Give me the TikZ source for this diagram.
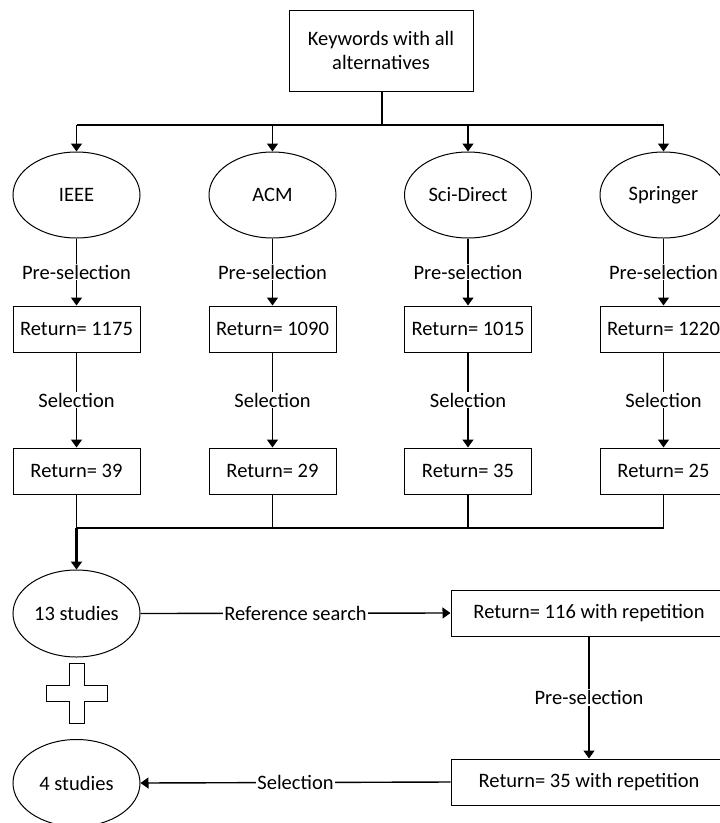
\documentclass[tikz,border=0pt]{standalone}
\usepackage{fontspec}
\setmainfont{Carlito}
\usetikzlibrary{arrows.meta,shapes.geometric}
\tikzset{
  txt/.style={font=\fontsize{20.5}{24}\selectfont},
  boxnode/.style={txt, draw, line width=1pt, minimum width=127pt, minimum height=46pt, inner sep=0pt},
  ellnode/.style={txt, draw, ellipse, line width=1pt, minimum width=127pt, minimum height=86pt, inner sep=0pt},
  link/.style={line width=1.4pt},
  arr/.style={line width=1.4pt, -{Triangle[width=11pt,length=8pt]}},
  merge/.style={line width=2.2pt},
  lbl/.style={txt, fill=white, inner sep=1pt}
}
\begin{document}
\begin{tikzpicture}[x=1pt,y=-1pt]
\useasboundingbox (0,0) rectangle (720,823);
\clip (0,0) rectangle (720,823);
\fill[white] (0,0) rectangle (720,823);

% top box
\node[boxnode, minimum width=184pt, minimum height=81pt, align=center] (top) at (381,50.5) {Keywords with all\\alternatives};
\coordinate (j) at (382,125);

% databases
\node[ellnode] (ieee) at (76.5,195) {IEEE};
\node[ellnode] (acm) at (272.5,195) {ACM};
\node[ellnode] (sci) at (468,195) {Sci-Direct};
\node[ellnode] (spr) at (663.5,195) {Springer};

\node[boxnode] (a1) at (76.5,329) {Return= 1175};
\node[boxnode] (b1) at (272.5,329) {Return= 1090};
\node[boxnode] (c1) at (468,329) {Return= 1015};
\node[boxnode] (d1) at (663.5,329) {Return= 1220};

\node[boxnode] (a2) at (76.5,471) {Return= 39};
\node[boxnode] (b2) at (272.5,471) {Return= 29};
\node[boxnode] (c2) at (468,471) {Return= 35};
\node[boxnode] (d2) at (663.5,471) {Return= 25};

\coordinate (m) at (76.5,528);

\node[ellnode, minimum height=87pt] (s13) at (76.5,613.5) {13 studies};
\node[boxnode, minimum width=276pt] (r116) at (589,613) {Return= 116 with repetition};
\node[boxnode, minimum width=276pt] (r35) at (589,782) {Return= 35 with repetition};
\node[ellnode, minimum height=87pt] (s4) at (76.5,783) {4 studies};

% plus sign
\draw[line width=1pt] (69,663) -- (84,663) -- (84,685) -- (107,685) -- (107,701) -- (84,701) -- (84,723) -- (69,723) -- (69,701) -- (46,701) -- (46,685) -- (69,685) -- cycle;

% top distribution
\draw[link] (top.south -| j) -- (j);
\draw[link] (ieee.north |- j) -- (spr.north |- j);
\foreach \n in {ieee,acm,sci,spr} {
  \draw[arr] (\n.north |- j) -- (\n.north);
}

% pre-selection and selection
\foreach \e/\p/\q in {ieee/a1/a2, acm/b1/b2, sci/c1/c2, spr/d1/d2} {
  \draw[arr] (\e.south) -- node[lbl] {Pre-selection} (\p.north);
  \draw[arr] (\p.south) -- node[lbl] {Selection} (\q.north);
}

% merge
\foreach \n in {a2,b2,c2,d2} {
  \draw[link] (\n.south) -- (\n.south |- m);
}
\draw[merge] (m) -- (d2.south |- m);
\draw[merge, -{Triangle[width=11pt,length=8pt]}] (m) -- (s13.north);

% bottom flow
\draw[arr] (s13.east) -- node[lbl] {Reference search} (r116.west);
\draw[arr] (r116.south) -- node[lbl] {Pre-selection} (r35.north);
\draw[arr] (r35.west) -- node[lbl] {Selection} (s4.east);
\end{tikzpicture}
\end{document}
